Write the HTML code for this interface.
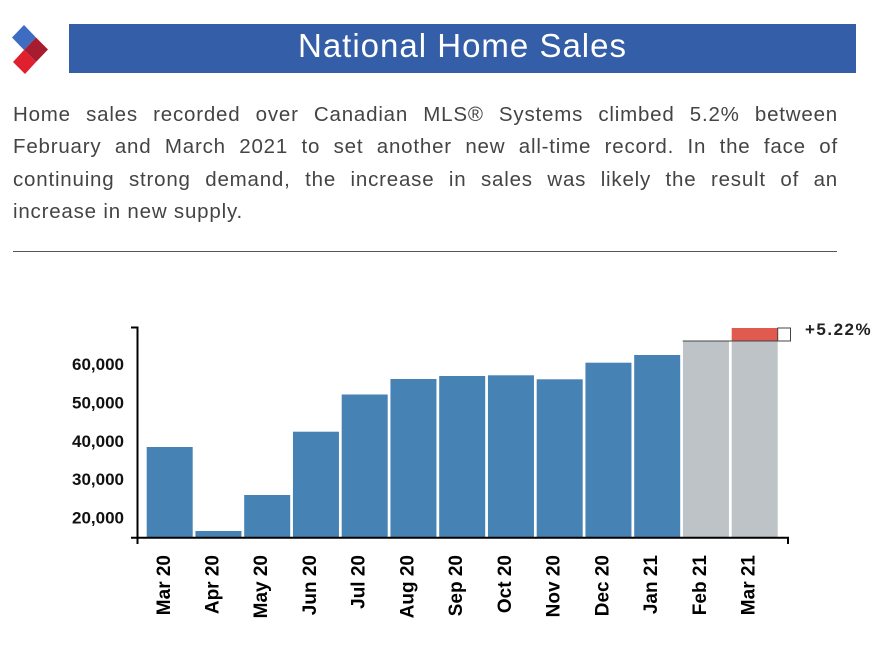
<!DOCTYPE html>
<html>
<head>
<meta charset="utf-8">
<style>
  html,body{margin:0;padding:0;background:#fff;}
  body{width:879px;height:652px;position:relative;overflow:hidden;font-family:"Liberation Sans",Arial,sans-serif;}
  .banner{position:absolute;left:69px;top:24px;width:787px;height:49px;background:#355ea8;}
  .title{position:absolute;left:69px;top:28px;width:787px;text-align:center;color:#fff;font-size:33px;letter-spacing:1px;line-height:36px;}
  .p{position:absolute;left:13px;width:825px;font-size:20.5px;letter-spacing:0.8px;color:#444;line-height:24px;}
  .j{text-align:justify;text-align-last:justify;}
  .sep{position:absolute;left:13px;top:251px;width:824px;height:0;border-top:1.5px solid #555;}
  svg{position:absolute;left:0;top:0;}
</style>
</head>
<body>
<svg width="879" height="652" viewBox="0 0 879 652">
  <polygon points="24,25 36,37.5 24,50 12,37.5" fill="#3d6cc0"/>
  <polygon points="24,50 36,62 25,74 13,62" fill="#e0202e"/>
  <polygon points="36,37.5 48,49.5 36,62 24,50" fill="#a81c30"/>
</svg>
<div class="banner"></div>
<div class="title">National Home Sales</div>

<div class="p j" style="top:103px;">Home sales recorded over Canadian MLS® Systems climbed 5.2% between</div>
<div class="p j" style="top:135.3px;">February and March 2021 to set another new all-time record. In the face of</div>
<div class="p j" style="top:167.8px;">continuing strong demand, the increase in sales was likely the result of an</div>
<div class="p" style="top:199.8px;">increase in new supply.</div>
<div class="sep"></div>

<svg width="879" height="652" viewBox="0 0 879 652">
  <g fill="#4682b4">
    <rect x="146.7" y="447" width="46" height="90.5"/>
    <rect x="195.45" y="531" width="46" height="6.5"/>
    <rect x="244.2" y="495" width="46" height="42.5"/>
    <rect x="292.95" y="431.7" width="46" height="105.8"/>
    <rect x="341.7" y="394.5" width="46" height="143"/>
    <rect x="390.45" y="379" width="46" height="158.5"/>
    <rect x="439.2" y="376" width="46" height="161.5"/>
    <rect x="487.95" y="375.3" width="46" height="162.2"/>
    <rect x="536.7" y="379.3" width="46" height="158.2"/>
    <rect x="585.45" y="362.7" width="46" height="174.8"/>
    <rect x="634.2" y="355" width="46" height="182.5"/>
  </g>
  <g fill="#bec3c7">
    <rect x="682.95" y="341" width="46" height="196.5"/>
    <rect x="731.7" y="341" width="46" height="196.5"/>
  </g>
  <rect x="731.7" y="328" width="46" height="13" fill="#e05a4f"/>
  <line x1="682.7" y1="341" x2="790.5" y2="341" stroke="#444" stroke-width="1"/>
  <rect x="777.7" y="328" width="12.8" height="13" fill="none" stroke="#444" stroke-width="1"/>
  <text x="805" y="335" font-family="Liberation Sans, Arial, sans-serif" font-size="17" font-weight="bold" letter-spacing="1.5" fill="#222">+5.22%</text>

  <line x1="137.5" y1="326.5" x2="137.5" y2="544" stroke="#000" stroke-width="2"/>
  <line x1="131" y1="327.5" x2="137.5" y2="327.5" stroke="#000" stroke-width="2"/>
  <line x1="131" y1="537.7" x2="789" y2="537.7" stroke="#000" stroke-width="2"/>
  <line x1="788" y1="537" x2="788" y2="544" stroke="#000" stroke-width="2"/>

  <g font-family="Liberation Sans, Arial, sans-serif" font-size="17" font-weight="bold" fill="#111" text-anchor="end">
    <text x="124" y="370">60,000</text>
    <text x="124" y="408.4">50,000</text>
    <text x="124" y="446.8">40,000</text>
    <text x="124" y="485.2">30,000</text>
    <text x="124" y="523.6">20,000</text>
  </g>

  <g font-family="Liberation Sans, Arial, sans-serif" font-size="19" font-weight="bold" fill="#000" text-anchor="end">
    <text transform="translate(170,555) rotate(-90)">Mar 20</text>
    <text transform="translate(218.5,555) rotate(-90)">Apr 20</text>
    <text transform="translate(267.2,555) rotate(-90)">May 20</text>
    <text transform="translate(316,555) rotate(-90)">Jun 20</text>
    <text transform="translate(364.7,555) rotate(-90)">Jul 20</text>
    <text transform="translate(413.5,555) rotate(-90)">Aug 20</text>
    <text transform="translate(462.2,555) rotate(-90)">Sep 20</text>
    <text transform="translate(511,555) rotate(-90)">Oct 20</text>
    <text transform="translate(559.7,555) rotate(-90)">Nov 20</text>
    <text transform="translate(608.5,555) rotate(-90)">Dec 20</text>
    <text transform="translate(657.2,555) rotate(-90)">Jan 21</text>
    <text transform="translate(706,555) rotate(-90)">Feb 21</text>
    <text transform="translate(754.7,555) rotate(-90)">Mar 21</text>
  </g>
</svg>
</body>
</html>
